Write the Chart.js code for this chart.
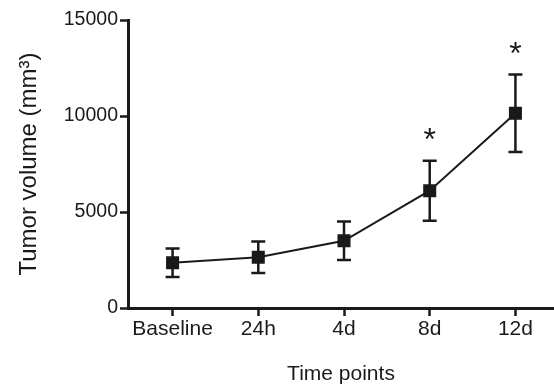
<!DOCTYPE html>
<html>
<head>
<meta charset="utf-8">
<script src="https://cdn.jsdelivr.net/npm/chart.js@4"></script>
<style>
  html, body { margin: 0; padding: 0; background: #fff; }
  #wrap { width: 554px; height: 385px; }
</style>
</head>
<body>
<div id="wrap"><canvas id="grafico"></canvas></div>
<script>
// dados
const categorias = ["Baseline", "24h", "4d", "8d", "12d"];
const medias = [2360, 2640, 3500, 6110, 10140];
const erros = [740, 820, 1000, 1560, 2020];
const marcas = ["", "", "", "*", "*"];
const ticksY = [0, 5000, 10000, 15000];

const cor = "#1a1a1a";
const fonte = "'Liberation Sans', Arial, sans-serif";

// barras de erro e asteriscos
const errorBars = {
  id: "errorBars",
  afterDatasetsDraw(chart) {
    const ctx = chart.ctx;
    const x = chart.scales.x;
    const y = chart.scales.y;
    ctx.save();
    ctx.strokeStyle = cor;
    ctx.fillStyle = cor;
    ctx.lineWidth = 2.5;
    medias.forEach((m, i) => {
      const px = x.getPixelForValue(i);
      const top = y.getPixelForValue(m + erros[i]);
      const bot = y.getPixelForValue(m - erros[i]);
      ctx.beginPath();
      ctx.moveTo(px, top);
      ctx.lineTo(px, bot);
      ctx.moveTo(px - 7, top);
      ctx.lineTo(px + 7, top);
      ctx.moveTo(px - 7, bot);
      ctx.lineTo(px + 7, bot);
      ctx.stroke();
      if (marcas[i]) {
        ctx.font = "32px " + fonte;
        ctx.textAlign = "center";
        ctx.textBaseline = "alphabetic";
        ctx.fillText(marcas[i], px, top - 11);
      }
    });
    ctx.restore();
  },
};

new Chart(document.getElementById("grafico"), {
  type: "line",
  data: {
    datasets: [
      {
        data: medias.map((v, i) => ({ x: i, y: v })),
        borderColor: cor,
        backgroundColor: cor,
        borderWidth: 2,
        pointStyle: "rect",
        pointRadius: 7.8,
        pointHoverRadius: 7.8,
      },
    ],
  },
  options: {
    responsive: true,
    maintainAspectRatio: false,
    animation: false,
    events: [],
    layout: { autoPadding: false, padding: { top: 20, right: 0, left: 0, bottom: 0 } },
    plugins: { legend: { display: false }, tooltip: { enabled: false } },
    scales: {
      x: {
        type: "linear",
        min: -0.52,
        max: 4.45,
        afterFit: (s) => { s.height = 77; s.paddingRight = 0; },
        afterBuildTicks: (s) => { s.ticks = categorias.map((_, i) => ({ value: i })); },
        grid: { drawOnChartArea: false, tickLength: 8, tickColor: cor, tickWidth: 2.5 },
        border: { color: cor, width: 3 },
        ticks: {
          color: cor,
          font: { family: fonte, size: 21 },
          padding: 1,
          maxRotation: 0,
          callback: (v) => categorias[v],
        },
        title: {
          display: true,
          text: "Time points",
          color: cor,
          font: { family: fonte, size: 21 },
          padding: { top: 0, bottom: -2 },
        },
      },
      y: {
        min: 0,
        max: 15000,
        afterFit: (s) => { s.width = 128; },
        afterBuildTicks: (s) => { s.ticks = ticksY.map((v) => ({ value: v })); },
        grid: { drawOnChartArea: false, tickLength: 8, tickColor: cor, tickWidth: 2.5 },
        border: { color: cor, width: 3 },
        ticks: {
          color: cor,
          font: { family: fonte, size: 19.5 },
          padding: 2,
          callback: (v) => String(v),
        },
        title: {
          display: true,
          text: "Tumor volume (mm³)",
          color: cor,
          font: { family: fonte, size: 24 },
          padding: { top: 15, bottom: 0 },
        },
      },
    },
  },
  plugins: [errorBars],
});
</script>
</body>
</html>
